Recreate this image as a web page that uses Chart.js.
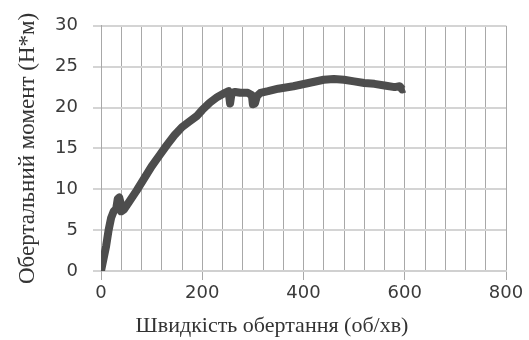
<!DOCTYPE html>
<html>
<head>
<meta charset="utf-8">
<script src="https://cdn.jsdelivr.net/npm/chart.js@4/dist/chart.umd.min.js"></script>
<style>
  html, body { margin: 0; padding: 0; background: #fff; }
  #wrap { width: 529px; height: 340px; }
</style>
</head>
<body>
<div id="wrap"><canvas id="torque"></canvas></div>
<script>
// speed (об/хв) and torque (Н*м)
const speed = [0, 5, 10, 15, 20, 25, 30, 33, 36, 38, 40, 45, 55, 70, 85, 100, 115, 130, 145, 160,
  175, 190, 200, 215, 230, 245, 252, 255, 258, 265, 275, 290, 298, 300, 304, 308, 315, 330, 350,
  380, 410, 440, 460, 480, 500, 520, 540, 560, 580, 590, 595, 600];
const torque = [0, 1.5, 3, 5, 6.5, 7.3, 7.6, 8.8, 9, 8.5, 7.3, 7.5, 8.4, 9.8, 11.3, 12.8, 14.1, 15.4, 16.6, 17.6,
  18.3, 19, 19.7, 20.6, 21.3, 21.8, 22, 20.5, 21.8, 21.9, 21.8, 21.8, 21.5, 20.4, 20.5, 21.4, 21.8, 22, 22.3,
  22.6, 23, 23.4, 23.5, 23.4, 23.2, 23, 22.9, 22.7, 22.5, 22.6, 22.2, 22.3];

const xTitle = "Швидкість обертання (об/хв)";
const yTitle = "Обертальний момент (Н*м)";

const points = speed.map((s, i) => ({ x: s, y: torque[i] }));

// x title sits a bit left of the plot centre in the original
const xTitlePlugin = {
  id: "xTitle",
  afterDraw(chart) {
    const ctx = chart.ctx;
    ctx.save();
    ctx.font = "22px 'Liberation Serif'";
    ctx.fillStyle = "#333";
    ctx.textAlign = "center";
    ctx.textBaseline = "middle";
    ctx.fillText(xTitle, 272, 326);
    ctx.restore();
  }
};

new Chart(document.getElementById("torque"), {
  type: "scatter",
  data: {
    datasets: [{
      data: points,
      showLine: true,
      borderColor: "#4d4d4d",
      borderWidth: 8,
      borderJoinStyle: "round",
      pointRadius: 0,
      tension: 0
    }]
  },
  options: {
    responsive: true,
    maintainAspectRatio: false,
    animation: false,
    layout: { padding: { top: 21, right: 23, left: 0, bottom: 0 } },
    plugins: { legend: { display: false }, tooltip: { enabled: false } },
    scales: {
      x: {
        type: "linear",
        min: 0, max: 800,
        afterFit(s) { s.height = 69; },
        ticks: {
          stepSize: 40,
          autoSkip: false,
          maxRotation: 0,
          padding: 3,
          color: "#3a3a3a",
          font: { family: "DejaVu Sans", size: 18 },
          callback: v => (v % 200 === 0 ? v : "")
        },
        grid: {
          color: "#a8a8a8",
          lineWidth: 1,
          tickLength: 9,
          tickColor: ctx => (ctx.tick && ctx.tick.value % 200 === 0 ? "#a8a8a8" : "rgba(0,0,0,0)")
        },
        border: { color: "#d0d0d0", width: 2 },
        title: { display: false }
      },
      y: {
        min: 0, max: 30,
        afterFit(s) { s.width = 101; },
        ticks: {
          stepSize: 5,
          padding: 15,
          color: "#3a3a3a",
          font: { family: "DejaVu Sans", size: 18 }
        },
        grid: {
          color: "#d4d4d4",
          lineWidth: 2,
          tickLength: 8
        },
        border: { color: "#a8a8a8", width: 1 },
        title: {
          display: true,
          text: yTitle,
          color: "#333",
          font: { family: "Liberation Serif", size: 23 },
          padding: { top: 14, bottom: 0 }
        }
      }
    }
  },
  plugins: [xTitlePlugin]
});
</script>
</body>
</html>
